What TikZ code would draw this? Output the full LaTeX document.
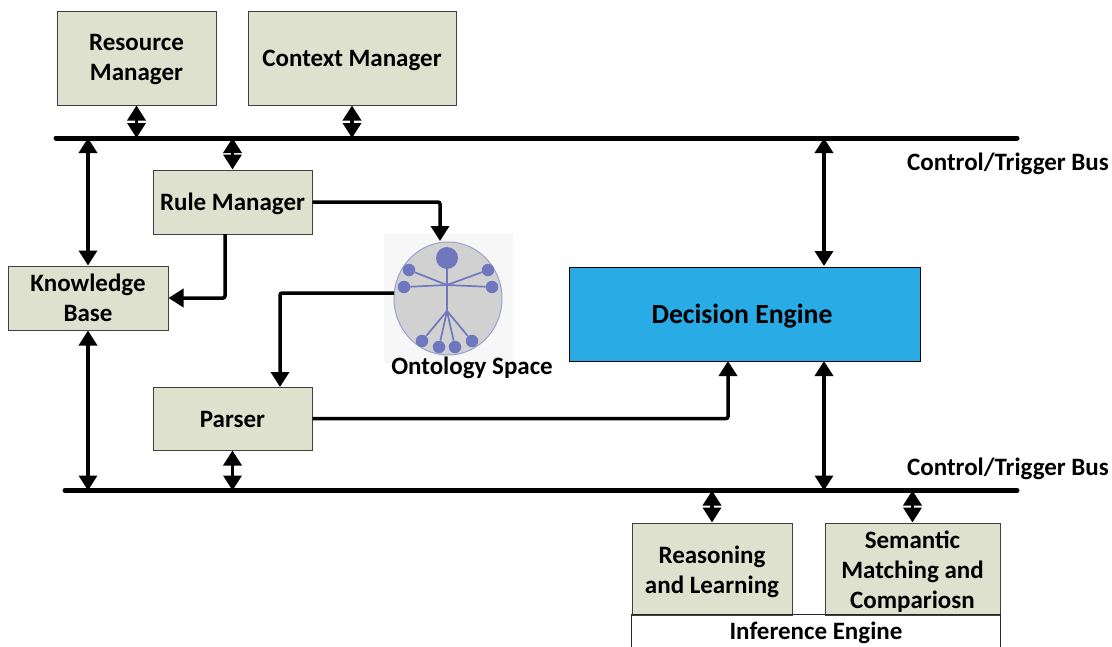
\documentclass[tikz,border=0pt]{standalone}
\usepackage{fontspec}
\setmainfont{Carlito}
\usetikzlibrary{arrows.meta}
\definecolor{boxgreen}{HTML}{DEE1CD}
\definecolor{enginecyan}{HTML}{29ABE6}
\definecolor{figblue}{HTML}{6F78BE}

\begin{document}
\begin{tikzpicture}[x=1pt,y=-1pt,>={Triangle[length=15pt,width=18pt]},auto,
	drop/.style={execute at begin node={\rule{0pt}{#1}}},
	main node/.style={rectangle,fill=boxgreen,draw=black!75,line width=1pt,align=center,inner sep=0pt,
		font=\fontsize{25}{30}\selectfont\bfseries,drop=24pt,execute at end node={\rule[-7pt]{0pt}{0pt}}},
	bus/.style={line width=5pt,line cap=round},
	link/.style={<->,line width=3.5pt},
	flow/.style={->,line width=3.5pt,rounded corners=2pt},
	title node/.style={font=\fontsize{25}{30}\selectfont\bfseries,inner sep=0pt}]
	\useasboundingbox (0,0) rectangle (1112,646);

	\node[main node,text height=52pt,minimum width=159pt,minimum height=94pt] (resource) at (136.5,58) {Resource\\Manager};
	\node[main node,minimum width=208pt,minimum height=94pt] (context) at (352,58) {Context Manager};
	\node[main node,minimum width=159pt,minimum height=64pt] (rule) at (232.5,202) {Rule Manager};
	\node[main node,text height=53pt,minimum width=160pt,minimum height=64pt] (base) at (88,298) {Knowledge\\Base};
	\node[main node,drop=20pt,minimum width=159pt,minimum height=63pt] (parser) at (232.5,418.5) {Parser};
	\node[main node,drop=26pt,fill=enginecyan,draw=black,minimum width=351pt,minimum height=94pt,
		font=\fontsize{27.7}{30}\selectfont\bfseries] (decision) at (744.5,314) {Decision Engine\hspace*{5pt}};
	\node[main node,text height=55pt,minimum width=160pt,minimum height=92pt] (reasoning) at (712,569) {Reasoning\\and Learning};
	\node[main node,text height=85pt,minimum width=175pt,minimum height=92pt] (matching) at (912.5,569) {Semantic\\Matching and\\Compariosn};
	\node[title node,minimum width=368pt,minimum height=35pt] (inference) at (816,632.5) {Inference Engine};
	\draw[draw=black!85,line width=1pt] (inference.south west) -- (inference.north west) -- (inference.north east) -- (inference.south east);

	% ontology picture
	\node[rectangle,fill=black!3,minimum width=129pt,minimum height=129pt,inner sep=0pt] (square) at (448.5,298.5) {};
	\draw[fill=black!18,draw=figblue!70,line width=1pt] (448,298.5) ellipse (54pt and 56.5pt);
	\coordinate (ontotop) at (440,241);
	\coordinate (ontoleft) at (394,293);
	\coordinate (chest) at (447,285);
	\coordinate (hip) at (447,311);
	\node[circle,fill=figblue,minimum size=22pt,inner sep=0pt] (head) at (447,258) {};
	\draw[figblue,line width=1.7pt] (head) -- (hip);
	\foreach \name/\px/\py in {h1/409/270,h2/488/270,h3/404/287,h4/492/287} {
		\node[circle,fill=figblue,minimum size=12.5pt,inner sep=0pt] (\name) at (\px,\py) {};
		\draw[figblue,line width=1.7pt] (\name) -- (chest);
	}
	\foreach \name/\px/\py in {f1/422/341,f2/439/347,f3/455/347,f4/472/341} {
		\node[circle,fill=figblue,minimum size=12.5pt,inner sep=0pt] (\name) at (\px,\py) {};
		\draw[figblue,line width=1.7pt] (\name) -- (hip);
	}
	\node[title node] (ontology) at (472,368) {Ontology Space};

	% buses
	\coordinate (top1) at (56,138);
	\coordinate (top2) at (1017,138);
	\coordinate (bot1) at (65,490.5);
	\coordinate (bot2) at (1017,490.5);
	\draw[bus] (top1) -- (top2);
	\draw[bus] (bot1) -- (bot2);
	\node[title node] (toplabel) at (1008,164) {Control/Trigger Bus};
	\node[title node] (botlabel) at (1008,469) {Control/Trigger Bus};

	\coordinate (decisionup) at (824,266);
	\coordinate (decisiondown) at (824,361);
	\path[link]
	(resource.south) edge (resource.south |- top1)
	(context.south) edge (context.south |- top1)
	(rule.north) edge (rule.north |- top1)
	(base.north) edge (base.north |- top1)
	(base.south) edge (base.south |- bot1)
	(parser.south) edge (parser.south |- bot1)
	(decisionup) edge (decisionup |- top1)
	(decisiondown) edge (decisiondown |- bot1)
	(reasoning.north) edge (reasoning.north |- bot1)
	(matching.north) edge (matching.north |- bot1);

	\coordinate (rulebelow) at (225,234);
	\coordinate (parserin) at (280,387);
	\coordinate (decisionin) at (728,361);
	\draw[flow] (rule.east) -| (ontotop);
	\draw[flow] (rulebelow) |- (base.east);
	\draw[flow] (ontoleft) -| (parserin);
	\draw[flow] (parser.east) -| (decisionin);
\end{tikzpicture}
\end{document}
